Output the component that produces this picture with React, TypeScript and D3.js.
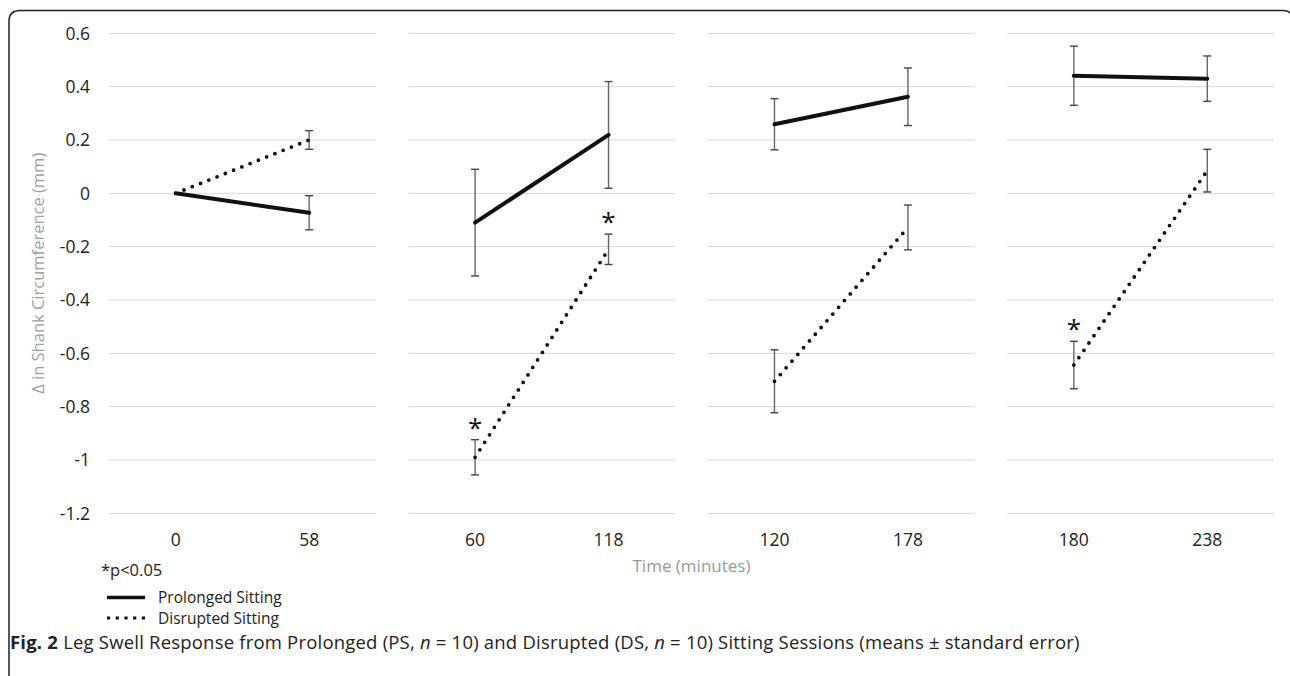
import React, { useEffect, useRef } from 'react';
import * as d3 from 'd3';

// sessions (each panel is one sitting block)
const sessions = ['S1', 'S2', 'S3', 'S4'];
const timeLabels = ['0', '58', '60', '118', '120', '178', '180', '238'];
const yTicks = [0.6, 0.4, 0.2, 0, -0.2, -0.4, -0.6, -0.8, -1, -1.2];

// Prolonged Sitting (PS) means and standard errors, in time order
const psMean = [0, -0.073, -0.11, 0.219, 0.259, 0.362, 0.441, 0.43];
const psSE = [0, 0.064, 0.2, 0.2, 0.096, 0.108, 0.111, 0.085];

// Disrupted Sitting (DS) means and standard errors
const dsMean = [0, 0.2, -0.99, -0.21, -0.705, -0.128, -0.644, 0.085];
const dsSE = [0, 0.035, 0.066, 0.057, 0.118, 0.084, 0.089, 0.08];
const dsSignificant = [false, false, true, true, false, false, true, false];

const FONT = "'Open Sans', 'DejaVu Sans', sans-serif";

export default function App() {
  const ref = useRef<SVGSVGElement | null>(null);

  useEffect(() => {
    document.body.style.margin = '0';
    const width = 1290;
    const height = 676;
    const plot = { left: 109, right: 1274, top: 33.3, bottom: 513.3 };

    const svg = d3.select(ref.current);
    svg.selectAll('*').remove();
    svg.attr('width', width).attr('height', height).style('font-family', FONT);

    svg.append('rect').attr('width', width).attr('height', height).attr('fill', '#fff');

    // frame
    svg
      .append('path')
      .attr('d', 'M9,676 V21 Q9,10.5 20,10.5 H1283 Q1290,10.5 1292,16')
      .attr('fill', 'none')
      .attr('stroke', '#222')
      .attr('stroke-width', 1.5);

    const y = d3.scaleLinear().domain([-1.2, 0.6]).range([plot.bottom, plot.top]);
    const panel = d3
      .scaleBand<string>()
      .domain(sessions)
      .range([plot.left, plot.right])
      .paddingInner(0.1085)
      .paddingOuter(0);
    const bw = panel.bandwidth();

    // y tick labels
    svg
      .append('g')
      .selectAll('text')
      .data(yTicks)
      .enter()
      .append('text')
      .attr('x', 90)
      .attr('y', d => y(d))
      .attr('dy', '0.36em')
      .attr('text-anchor', 'end')
      .attr('font-size', 17.5)
      .attr('fill', '#222')
      .text(d => String(d));

    svg
      .append('text')
      .attr('transform', 'translate(38,' + (plot.top + plot.bottom) / 2 + ') rotate(-90)')
      .attr('dy', '0.36em')
      .attr('text-anchor', 'middle')
      .attr('font-size', 16.5)
      .attr('fill', '#a0a0a0')
      .text('Δ in Shank Circumference (mm)');

    sessions.forEach((s, i) => {
      const x0 = panel(s) as number;
      const idx = [i * 2, i * 2 + 1];
      const x = d3
        .scalePoint<string>()
        .domain(idx.map(k => timeLabels[k]))
        .range([x0, x0 + bw])
        .padding(0.5);
      const g = svg.append('g');

      // gridlines
      g.selectAll('line.grid')
        .data(yTicks)
        .enter()
        .append('line')
        .attr('x1', x0)
        .attr('x2', x0 + bw)
        .attr('y1', d => y(d))
        .attr('y2', d => y(d))
        .attr('stroke', '#dedede')
        .attr('stroke-width', 1.3);

      // x tick labels
      g.selectAll('text.tick')
        .data(idx)
        .enter()
        .append('text')
        .attr('x', k => x(timeLabels[k]) as number)
        .attr('y', 540)
        .attr('dy', '0.36em')
        .attr('text-anchor', 'middle')
        .attr('font-size', 17.5)
        .attr('fill', '#222')
        .text(k => timeLabels[k]);

      const line = d3
        .line<number>()
        .x(k => x(timeLabels[k]) as number);

      // error bars
      const errBars = (mean: number[], se: number[]) => {
        idx.filter(k => se[k] > 0).forEach(k => {
          const cx = x(timeLabels[k]) as number;
          const top = y(mean[k] + se[k]);
          const bot = y(mean[k] - se[k]);
          g.append('line')
            .attr('x1', cx).attr('x2', cx).attr('y1', top).attr('y2', bot)
            .attr('stroke', '#666').attr('stroke-width', 1.4);
          [top, bot].forEach(yy => {
            g.append('line')
              .attr('x1', cx - 4).attr('x2', cx + 4).attr('y1', yy).attr('y2', yy)
              .attr('stroke', '#444').attr('stroke-width', 1.4);
          });
        });
      };
      errBars(psMean, psSE);
      errBars(dsMean, dsSE);

      // prolonged sitting
      g.append('path')
        .attr('d', line.y(k => y(psMean[k]))(idx))
        .attr('fill', 'none')
        .attr('stroke', '#111')
        .attr('stroke-width', 4)
        .attr('stroke-linecap', 'round');

      // disrupted sitting
      g.append('path')
        .attr('d', line.y(k => y(dsMean[k]))(idx))
        .attr('fill', 'none')
        .attr('stroke', '#111')
        .attr('stroke-width', 3.8)
        .attr('stroke-linecap', 'round')
        .attr('stroke-dasharray', '0 8.9');

      // significance markers
      idx.filter(k => dsSignificant[k]).forEach(k => {
        g.append('text')
          .attr('x', x(timeLabels[k]) as number)
          .attr('y', y(dsMean[k] + dsSE[k]) - 3)
          .attr('text-anchor', 'middle')
          .attr('font-size', 26)
          .attr('fill', '#111')
          .text('*');
      });
    });

    svg
      .append('text')
      .attr('x', (plot.left + plot.right) / 2)
      .attr('y', 566)
      .attr('dy', '0.36em')
      .attr('text-anchor', 'middle')
      .attr('font-size', 17)
      .attr('fill', '#999')
      .text('Time (minutes)');

    // legend
    svg.append('text')
      .attr('x', 101).attr('y', 570).attr('dy', '0.36em')
      .attr('font-size', 16.5).attr('fill', '#222')
      .text('*p<0.05');

    const legend = [
      { label: 'Prolonged Sitting', dash: null, w: 3.5, y: 597.5 },
      { label: 'Disrupted Sitting', dash: '3.2 5.5', w: 3.2, y: 618 },
    ];
    legend.forEach(l => {
      svg.append('line')
        .attr('x1', 107).attr('x2', 145).attr('y1', l.y).attr('y2', l.y)
        .attr('stroke', '#111').attr('stroke-width', l.w)
        .attr('stroke-dasharray', l.dash);
      svg.append('text')
        .attr('x', 158).attr('y', l.y).attr('dy', '0.36em')
        .attr('font-size', 15.5).attr('fill', '#222')
        .text(l.label);
    });

    // caption
    const cap = svg.append('text')
      .attr('x', 10).attr('y', 649)
      .attr('font-size', 18.5).attr('letter-spacing', 0.2).attr('fill', '#222');
    cap.append('tspan').attr('font-weight', 'bold').text('Fig. 2');
    cap.append('tspan').text(' Leg Swell Response from Prolonged (PS, ');
    cap.append('tspan').attr('font-style', 'italic').text('n');
    cap.append('tspan').text(' = 10) and Disrupted (DS, ');
    cap.append('tspan').attr('font-style', 'italic').text('n');
    cap.append('tspan').text(' = 10) Sitting Sessions (means ± standard error)');
  }, []);

  return <svg ref={ref} style={{ display: 'block' }}></svg>;
}
